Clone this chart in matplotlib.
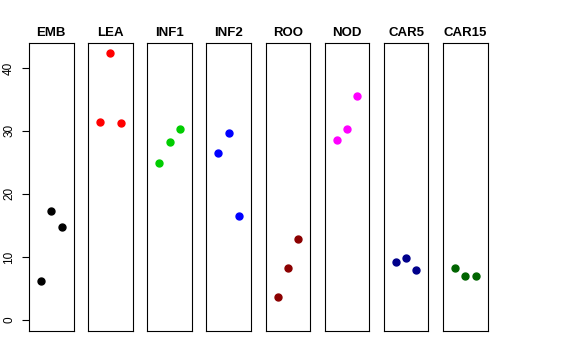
import matplotlib
matplotlib.use("Agg")
import matplotlib.pyplot as plt

plt.rcParams['font.family'] = ['Liberation Sans', 'DejaVu Sans']

# tissues, three replicates each
tissues = ["EMB", "LEA", "INF1", "INF2", "ROO", "NOD", "CAR5", "CAR15"]
colors = ["black", "red", "#00CD00", "blue", "#8B0000", "magenta", "#00008B", "#006400"]
reps = [1, 2, 3]
vals = [
    [6.2, 17.3, 14.7],
    [31.4, 42.3, 31.2],
    [24.9, 28.2, 30.3],
    [26.5, 29.6, 16.5],
    [3.7, 8.3, 12.8],
    [28.5, 30.3, 35.5],
    [9.2, 9.8, 7.9],
    [8.3, 7.05, 6.97],
]
yticks = [0, 10, 20, 30, 40]

fig = plt.figure(figsize=(5.76, 3.6), dpi=100)
left0 = 29.0 / 576
step = 59.15 / 576
w = 44.5 / 576
bot = 1 - 330.7 / 360
h = (330.7 - 43.3) / 360

for i, (name, col, v) in enumerate(zip(tissues, colors, vals)):
    ax = fig.add_axes([left0 + i * step, bot, w, h])
    ax.plot(reps, v, 'o', color=col, ms=5, mec=col)
    ax.set_xlim(-0.16, 4.16)
    ax.set_ylim(-1.7, 43.9)
    ax.set_xticks([])
    for s in ax.spines.values():
        s.set_linewidth(0.8)
        s.set_color("black")
    ax.set_title(name, fontsize=9.5, fontweight="bold", pad=5)
    if i == 0:
        ax.set_yticks(yticks)
        ax.tick_params(axis="y", length=5, width=0.8, labelsize=8.5, pad=5)
        for lab in ax.get_yticklabels():
            lab.set_rotation(90)
            lab.set_va("center")
    else:
        ax.set_yticks([])

fig.savefig("out.png", dpi=100)
